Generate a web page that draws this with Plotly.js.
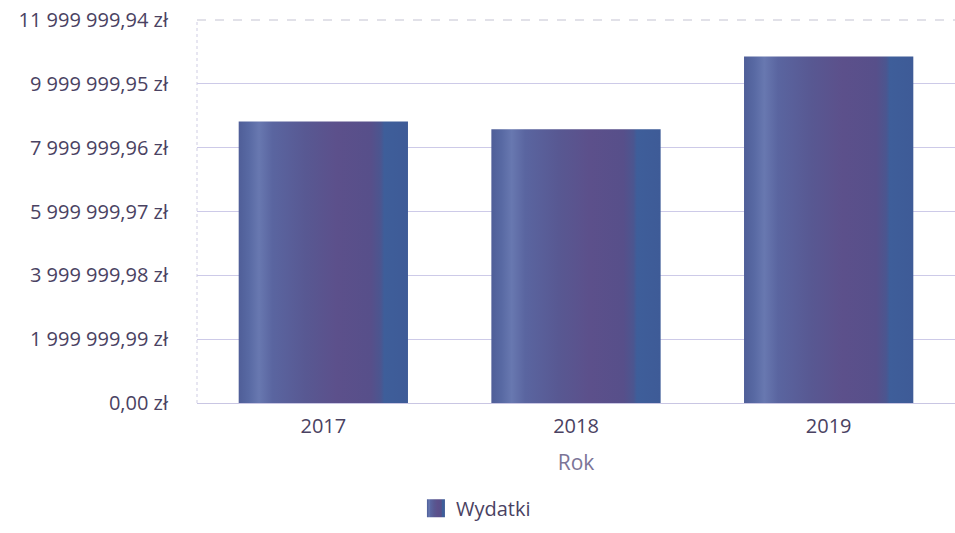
<!DOCTYPE html>
<html>
<head>
<meta charset="utf-8">
<script src="https://cdn.plot.ly/plotly-3.0.1.min.js"></script>
<style>
html,body{margin:0;padding:0;background:#fff;}
#chart{width:955px;height:533px;}
</style>
</head>
<body>
<div id="chart"></div>
<svg width="0" height="0" style="position:absolute">
  <defs>
    <linearGradient id="barGrad" x1="0" y1="0" x2="1" y2="0">
      <stop offset="0%" stop-color="#4f5e98"/>
      <stop offset="6%" stop-color="#5869a3"/>
      <stop offset="12%" stop-color="#6878b0"/>
      <stop offset="20%" stop-color="#5a65a0"/>
      <stop offset="40%" stop-color="#585892"/>
      <stop offset="58%" stop-color="#5c508b"/>
      <stop offset="78%" stop-color="#574f8a"/>
      <stop offset="84%" stop-color="#4b5690"/>
      <stop offset="86%" stop-color="#3e5e9a"/>
      <stop offset="100%" stop-color="#3e5b97"/>
    </linearGradient>
  </defs>
</svg>
<script>
const years = ['2017', '2018', '2019'];
const wydatki = [8820000, 8580000, 10860000];
const yTickVals = [0, 1999999.99, 3999999.98, 5999999.97, 7999999.96, 9999999.95, 11999999.94];
const yTickText = ['0,00 zł', '1 999 999,99 zł', '3 999 999,98 zł', '5 999 999,97 zł', '7 999 999,96 zł', '9 999 999,95 zł', '11 999 999,94 zł'];

const trace = {
  type: 'bar',
  name: 'Wydatki',
  x: years,
  y: wydatki,
  marker: {color: '#55558f', line: {width: 0}},
  hoverinfo: 'none'
};

const layout = {
  width: 955,
  height: 533,
  margin: {l: 197, r: 0, t: 20, b: 130},
  paper_bgcolor: '#ffffff',
  plot_bgcolor: '#ffffff',
  font: {family: 'Open Sans, sans-serif', size: 20, color: '#4a4262'},
  bargap: 0.33,
  showlegend: true,
  legend: {
    orientation: 'h',
    x: 0.368, xanchor: 'center',
    y: -0.275, yanchor: 'middle',
    font: {size: 20, color: '#4a4262'},
    itemwidth: 30
  },
  xaxis: {
    type: 'category',
    showgrid: false,
    showline: true,
    linecolor: '#c9c6e3',
    linewidth: 1,
    ticks: '',
    ticklabelstandoff: 5,
    tickfont: {size: 20, color: '#4a4262'},
    title: {text: 'Rok', standoff: 17, font: {size: 21, color: '#7b7497'}},
    zeroline: false
  },
  yaxis: {
    range: [0, 11999999.94],
    tickvals: yTickVals,
    ticktext: yTickText,
    ticks: '',
    ticklabelstandoff: 28,
    tickfont: {size: 20, color: '#4a4262'},
    showgrid: true,
    gridcolor: '#cdcae8',
    gridwidth: 1,
    zeroline: false,
    showline: false
  },
  shapes: [
    {type: 'line', xref: 'paper', yref: 'paper', x0: 0, x1: 0, y0: 0, y1: 1,
     line: {color: '#cfcde3', width: 1, dash: 'dot'}, layer: 'below'},
    {type: 'line', xref: 'paper', yref: 'paper', x0: 0, x1: 1, y0: 1, y1: 1,
     line: {color: '#c4c3d2', width: 1, dash: 'dash'}, layer: 'above'}
  ]
};

Plotly.newPlot('chart', [trace], layout, {staticPlot: true, displayModeBar: false}).then(function (gd) {
  const svg = gd.querySelector('.main-svg');
  const defs = svg.querySelector('defs');
  const grad = document.getElementById('barGrad').cloneNode(true);
  defs.appendChild(grad);
  gd.querySelectorAll('.bars .point path').forEach(function (p) {
    p.style.fill = 'url(#barGrad)';
  });
  gd.querySelectorAll('.legend .legendpoints path').forEach(function (p) {
    p.setAttribute('d', 'M9,9H-9V-9H9Z');
    p.style.fill = 'url(#barGrad)';
  });
});
</script>
</body>
</html>
